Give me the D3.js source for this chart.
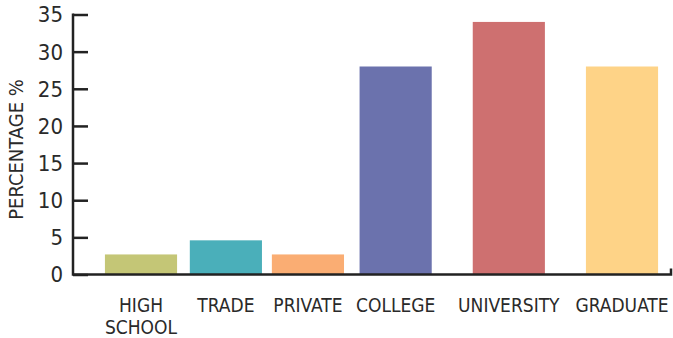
<!DOCTYPE html>
<html>
<head>
<meta charset="utf-8">
<script src="https://cdn.jsdelivr.net/npm/d3@7"></script>
<style>
  html, body { margin: 0; padding: 0; background: #fff; }
  svg { display: block; }
  text { font-family: "Liberation Sans Narrow", "DejaVu Sans Condensed", "Liberation Sans", sans-serif; fill: #2a2a2a; }
</style>
</head>
<body>
<svg id="chart" width="673" height="338"></svg>
<script>
// Share of respondents by highest level of education
const categories = ["HIGH SCHOOL", "TRADE", "PRIVATE", "COLLEGE", "UNIVERSITY", "GRADUATE"];
const values = [2.7, 4.6, 2.7, 28, 34, 28];
const colors = ["#c4c676", "#4aafba", "#faad73", "#6b72ad", "#ce7070", "#fed387"];
const yTicks = [0, 5, 10, 15, 20, 25, 30, 35];
const yTitle = "PERCENTAGE %";

const svg = d3.select("#chart");
const plotLeft = 73, plotRight = 671, plotTop = 14.5, plotBottom = 274.5;

// Bars sit on a grid of slots; the degree groups get a wider gap.
const slots = [0, 3, 5.9, 9, 13, 17];
const x = d3.scaleLinear().domain([0, 17]).range([141, 622]);
const barW = (x(1) - x(0)) * 2.55;

const y = d3.scaleLinear().domain([0, 35]).range([plotBottom, plotTop]);

// bars
svg.append("g").selectAll("rect")
  .data(categories)
  .join("rect")
  .attr("x", (d, i) => x(slots[i]) - barW / 2)
  .attr("width", barW)
  .attr("y", (d, i) => y(values[i]))
  .attr("height", (d, i) => y(0) - y(values[i]))
  .attr("fill", (d, i) => colors[i]);

// y axis with inward ticks
const yAxis = d3.axisRight(y).tickValues(yTicks).tickSize(15).tickFormat("");
const gy = svg.append("g").attr("transform", `translate(${plotLeft},0)`).call(yAxis);
gy.select(".domain").remove();
gy.selectAll(".tick line").attr("stroke", "#222").attr("stroke-width", 2.5);

svg.append("g").selectAll("text")
  .data(yTicks)
  .join("text")
  .attr("x", 63)
  .attr("y", d => y(d))
  .attr("dy", "0.36em")
  .attr("text-anchor", "end")
  .attr("font-size", 22)
  .text(d => d);

// axis lines
svg.append("path")
  .attr("d", `M${plotLeft},${plotTop - 1}V${plotBottom}H${plotRight}V${plotBottom - 6}`)
  .attr("fill", "none")
  .attr("stroke", "#222")
  .attr("stroke-width", 2.5);

// category labels, wrapped onto separate lines where needed
const lineGap = 22.5;
svg.append("g").selectAll("g")
  .data(categories)
  .join("g")
  .attr("transform", (d, i) => `translate(${x(slots[i])},311.5)`)
  .selectAll("text")
  .data(d => d === "HIGH SCHOOL" ? ["HIGH", "SCHOOL"] : [d])
  .join("text")
  .attr("y", (d, i) => i * lineGap)
  .attr("text-anchor", "middle")
  .attr("font-size", 19)
  .text(d => d);

// y title
svg.append("text")
  .attr("transform", `translate(23,${(plotTop + plotBottom) / 2 + 5}) rotate(-90)`)
  .attr("text-anchor", "middle")
  .attr("font-size", 20)
  .text(yTitle);
</script>
</body>
</html>
